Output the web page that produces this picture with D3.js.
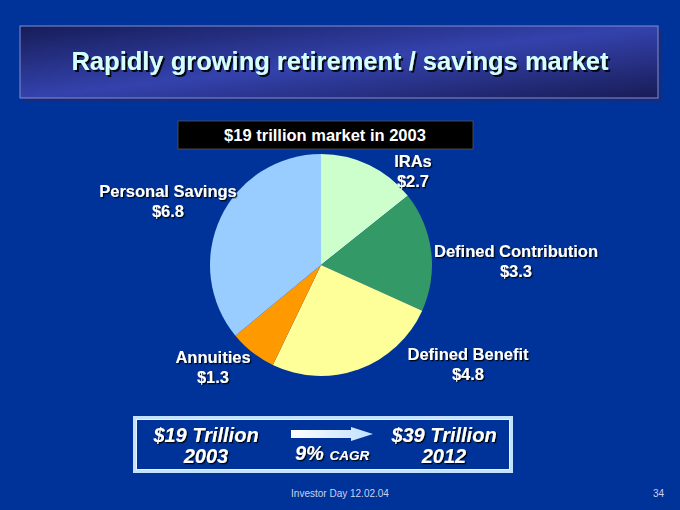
<!DOCTYPE html>
<html lang="en">
<head>
    <meta charset="UTF-8">
    <title>Retirement / savings market</title>
    <script src="https://d3js.org/d3.v7.min.js"></script>
    <style>
        html, body {
            margin: 0;
            padding: 0;
            background: #003399;
        }
        svg text {
            font-family: "Liberation Sans", Arial, sans-serif;
        }
        .lbl {
            font-weight: bold;
            font-size: 16.5px;
            fill: #fff;
            text-anchor: middle;
        }
        .big {
            font-weight: bold;
            font-style: italic;
            font-size: 20px;
            fill: #fff;
            text-anchor: middle;
        }
    </style>
</head>
<body>
    <svg id="chart" width="680" height="510"></svg>

    <script>
        // market in 2003, $ trillion (clockwise from 12 o'clock)
        const categories = ["IRAs", "Defined Contribution", "Defined Benefit", "Annuities", "Personal Savings"];
        const values = [2.7, 3.3, 4.8, 1.3, 6.8];
        const valueLabels = ["$2.7", "$3.3", "$4.8", "$1.3", "$6.8"];
        const palette = ["#CCFFCC", "#339966", "#FFFF99", "#FF9900", "#99CCFF"];

        const titleText = "Rapidly growing retirement / savings market";
        const subTitle = "$19 trillion market in 2003";
        const growthFrom = ["$19 Trillion", "2003"];
        const growthTo = ["$39 Trillion", "2012"];

        // label anchors, offset from pie centre (hand placed like the slide)
        const labelOffset = {
            "IRAs": [92, -98],
            "Defined Contribution": [195, -8],
            "Defined Benefit": [147, 95],
            "Annuities": [-108, 98],
            "Personal Savings": [-153, -68]
        };

        const svg = d3.select("#chart");
        const defs = svg.append("defs");

        const grad = defs.append("linearGradient").attr("id", "titleGrad")
            .attr("x1", "0").attr("y1", "0").attr("x2", "1").attr("y2", "1");
        grad.append("stop").attr("offset", "0%").attr("stop-color", "#161d58");
        grad.append("stop").attr("offset", "50%").attr("stop-color", "#3442ad");
        grad.append("stop").attr("offset", "100%").attr("stop-color", "#181c55");

        const arrowGrad = defs.append("linearGradient").attr("id", "arrowGrad")
            .attr("x1", "0").attr("y1", "0").attr("x2", "1").attr("y2", "0");
        arrowGrad.append("stop").attr("offset", "0%").attr("stop-color", "#ffffff");
        arrowGrad.append("stop").attr("offset", "100%").attr("stop-color", "#bfe0ff");

        const shadow = defs.append("filter").attr("id", "shadow")
            .attr("x", "-10%").attr("y", "-20%").attr("width", "130%").attr("height", "160%");
        shadow.append("feDropShadow").attr("dx", 1.3).attr("dy", 1.3)
            .attr("stdDeviation", 0.2).attr("flood-color", "#000").attr("flood-opacity", 0.9);

        const shadow2 = defs.append("filter").attr("id", "shadow2")
            .attr("x", "-10%").attr("y", "-20%").attr("width", "130%").attr("height", "160%");
        shadow2.append("feDropShadow").attr("dx", 2).attr("dy", 2)
            .attr("stdDeviation", 0.3).attr("flood-color", "#000").attr("flood-opacity", 0.9);

        // Title banner
        svg.append("rect").attr("x", 23).attr("y", 29).attr("width", 638).attr("height", 72).attr("fill", "#1a2a78");
        svg.append("rect").attr("x", 20).attr("y", 26).attr("width", 638).attr("height", 72)
            .attr("fill", "url(#titleGrad)").attr("stroke", "#7f8fd8").attr("stroke-width", 1);
        svg.append("text")
            .attr("x", 340).attr("y", 70)
            .attr("text-anchor", "middle")
            .style("font-size", "25.5px").style("font-weight", "bold")
            .attr("fill", "#d4ffff")
            .attr("filter", "url(#shadow2)")
            .text(titleText);

        // Subtitle box
        svg.append("rect").attr("x", 178).attr("y", 121).attr("width", 295).attr("height", 28)
            .attr("fill", "#000").attr("stroke", "#555").attr("stroke-width", 0.8);
        svg.append("text").attr("x", 325).attr("y", 141)
            .attr("text-anchor", "middle")
            .style("font-size", "16.5px").style("font-weight", "bold")
            .attr("fill", "#fff")
            .text(subTitle);

        // Pie
        const cx = 321, cy = 265, radius = 111;
        const data = categories.map((c, i) => ({ name: c, value: values[i], label: valueLabels[i] }));
        const color = d3.scaleOrdinal().domain(categories).range(palette);
        const pie = d3.pie().sort(null).value(d => d.value);
        const arc = d3.arc().innerRadius(0).outerRadius(radius);

        const g = svg.append("g").attr("transform", `translate(${cx},${cy})`);
        g.selectAll("path.slice")
            .data(pie(data))
            .enter().append("path")
            .attr("class", "slice")
            .attr("d", arc)
            .attr("fill", d => color(d.data.name));

        // Labels
        const lbl = g.selectAll("g.label")
            .data(data)
            .enter().append("g")
            .attr("class", "label")
            .attr("transform", d => `translate(${labelOffset[d.name][0]},${labelOffset[d.name][1]})`)
            .attr("filter", "url(#shadow)");
        lbl.append("text").attr("class", "lbl").attr("y", 0).text(d => d.name);
        lbl.append("text").attr("class", "lbl").attr("y", 20).text(d => d.label);

        // Growth box
        svg.append("rect").attr("x", 135).attr("y", 418).attr("width", 376).attr("height", 53)
            .attr("fill", "#003399").attr("stroke", "#c4e2ff").attr("stroke-width", 4);
        svg.append("rect").attr("x", 136.5).attr("y", 419.5).attr("width", 373).attr("height", 50)
            .attr("fill", "none").attr("stroke", "#eef8ff").attr("stroke-width", 0.8);

        const growth = svg.append("g").attr("filter", "url(#shadow)");
        growth.selectAll("text.from")
            .data(growthFrom)
            .enter().append("text")
            .attr("class", "big from")
            .attr("x", 206).attr("y", (d, i) => 442 + i * 21)
            .text(d => d);
        growth.selectAll("text.to")
            .data(growthTo)
            .enter().append("text")
            .attr("class", "big to")
            .attr("x", 444).attr("y", (d, i) => 442 + i * 21)
            .text(d => d);

        const cagr = growth.append("text").attr("x", 295).attr("y", 460)
            .attr("fill", "#fff").style("font-weight", "bold").style("font-style", "italic");
        cagr.append("tspan").style("font-size", "20px").text("9% ");
        cagr.append("tspan").style("font-size", "13.5px").text("CAGR");

        // Arrow
        svg.append("path")
            .attr("d", "M291,430 L351,430 L351,427 L373,434 L351,441 L351,438 L291,438 Z")
            .attr("fill", "url(#arrowGrad)");

        // Footer
        svg.append("text").attr("x", 340).attr("y", 497)
            .attr("text-anchor", "middle")
            .style("font-family", "'Liberation Sans Narrow', 'Arial Narrow', sans-serif")
            .style("font-size", "10px").attr("fill", "#c8d2ee")
            .text("Investor Day 12.02.04");
        svg.append("text").attr("x", 664).attr("y", 497)
            .attr("text-anchor", "end")
            .style("font-size", "10px").attr("fill", "#c8d2ee")
            .text("34");
    </script>
</body>
</html>
